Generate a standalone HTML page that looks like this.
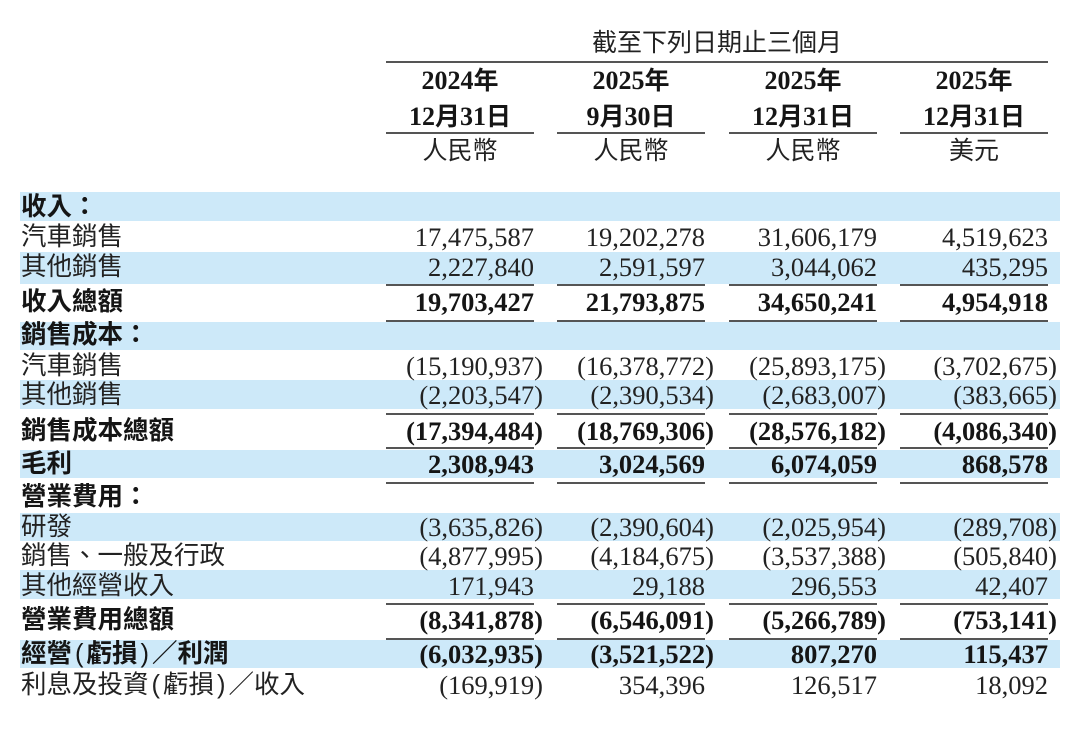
<!DOCTYPE html>
<html>
<head>
<meta charset="utf-8">
<style>
  html,body{margin:0;padding:0;}
  body{width:1080px;height:756px;position:relative;background:#fff;overflow:hidden;color:#1e1e1e;}
  .band{position:absolute;left:20px;width:1040px;background:#cde9f9;}
  .hl{position:absolute;height:2px;background:#555;}
  .cl{position:absolute;height:2px;width:148px;background:#555;}
  .lab{position:absolute;left:21px;font-family:"Liberation Sans","Noto Sans CJK TC",sans-serif;font-size:25.5px;line-height:32px;white-space:nowrap;color:#222;}
  .b{font-weight:bold;color:#151515;}
  .pr{font-family:"Liberation Sans",sans-serif;font-weight:normal;padding:0 3px;}
  .n{position:absolute;width:220px;text-align:right;font-family:"Liberation Serif",serif;font-size:26.5px;line-height:30px;white-space:nowrap;color:#222;}
  .nb{font-weight:bold;color:#151515;}
  .p{margin-right:-9px;}
  .h{position:absolute;width:200px;text-align:center;font-family:"Liberation Serif","Noto Sans CJK TC",serif;font-size:26px;line-height:32px;white-space:nowrap;font-weight:bold;color:#151515;}
  .h .c{font-family:"Noto Sans CJK TC",sans-serif;font-size:25px;}
  .hr{position:absolute;width:200px;text-align:center;font-family:"Liberation Sans","Noto Sans CJK TC",sans-serif;font-size:25px;line-height:32px;white-space:nowrap;color:#222;}
</style>
</head>
<body>
<!-- bands -->
<div class="band" style="top:192px;height:29px;"></div>
<div class="band" style="top:252px;height:32px;"></div>
<div class="band" style="top:322px;height:28px;"></div>
<div class="band" style="top:380px;height:29px;"></div>
<div class="band" style="top:450px;height:28px;"></div>
<div class="band" style="top:513px;height:28px;"></div>
<div class="band" style="top:570px;height:29px;"></div>
<div class="band" style="top:640px;height:28px;"></div>

<!-- header -->
<div class="hr" style="left:517px;top:27px;width:400px;">截至下列日期止三個月</div>
<div class="hl" style="left:386px;width:662px;top:61px;"></div>

<div class="h" style="left:360px;top:63px;">2024<span class="c">年</span></div>
<div class="h" style="left:531px;top:63px;">2025<span class="c">年</span></div>
<div class="h" style="left:703px;top:63px;">2025<span class="c">年</span></div>
<div class="h" style="left:874px;top:63px;">2025<span class="c">年</span></div>

<div class="h" style="left:360px;top:99px;">12<span class="c">月</span>31<span class="c">日</span></div>
<div class="h" style="left:531px;top:99px;">9<span class="c">月</span>30<span class="c">日</span></div>
<div class="h" style="left:703px;top:99px;">12<span class="c">月</span>31<span class="c">日</span></div>
<div class="h" style="left:874px;top:99px;">12<span class="c">月</span>31<span class="c">日</span></div>

<div class="cl" style="left:386px;top:132px;"></div>
<div class="cl" style="left:557px;top:132px;"></div>
<div class="cl" style="left:729px;top:132px;"></div>
<div class="cl" style="left:900px;top:132px;"></div>

<div class="hr" style="left:360px;top:135px;">人民幣</div>
<div class="hr" style="left:531px;top:135px;">人民幣</div>
<div class="hr" style="left:703px;top:135px;">人民幣</div>
<div class="hr" style="left:874px;top:135px;">美元</div>

<!-- total lines -->
<div class="cl" style="left:386px;top:284px;"></div><div class="cl" style="left:557px;top:284px;"></div><div class="cl" style="left:729px;top:284px;"></div><div class="cl" style="left:900px;top:284px;"></div>
<div class="cl" style="left:386px;top:320px;"></div><div class="cl" style="left:557px;top:320px;"></div><div class="cl" style="left:729px;top:320px;"></div><div class="cl" style="left:900px;top:320px;"></div>
<div class="cl" style="left:386px;top:413px;"></div><div class="cl" style="left:557px;top:413px;"></div><div class="cl" style="left:729px;top:413px;"></div><div class="cl" style="left:900px;top:413px;"></div>
<div class="cl" style="left:386px;top:447px;"></div><div class="cl" style="left:557px;top:447px;"></div><div class="cl" style="left:729px;top:447px;"></div><div class="cl" style="left:900px;top:447px;"></div>
<div class="cl" style="left:386px;top:482px;"></div><div class="cl" style="left:557px;top:482px;"></div><div class="cl" style="left:729px;top:482px;"></div><div class="cl" style="left:900px;top:482px;"></div>
<div class="cl" style="left:386px;top:603px;"></div><div class="cl" style="left:557px;top:603px;"></div><div class="cl" style="left:729px;top:603px;"></div><div class="cl" style="left:900px;top:603px;"></div>
<div class="cl" style="left:386px;top:638px;"></div><div class="cl" style="left:557px;top:638px;"></div><div class="cl" style="left:729px;top:638px;"></div><div class="cl" style="left:900px;top:638px;"></div>

<!-- labels -->
<div class="lab b" style="top:191px;">收入：</div>
<div class="lab" style="top:221px;">汽車銷售</div>
<div class="lab" style="top:251px;">其他銷售</div>
<div class="lab b" style="top:286px;">收入總額</div>
<div class="lab b" style="top:319px;">銷售成本：</div>
<div class="lab" style="top:350px;">汽車銷售</div>
<div class="lab" style="top:379px;">其他銷售</div>
<div class="lab b" style="top:415px;">銷售成本總額</div>
<div class="lab b" style="top:448px;">毛利</div>
<div class="lab b" style="top:481px;">營業費用：</div>
<div class="lab" style="top:511px;">研發</div>
<div class="lab" style="top:540px;">銷售、一般及行政</div>
<div class="lab" style="top:570px;">其他經營收入</div>
<div class="lab b" style="top:604px;">營業費用總額</div>
<div class="lab b" style="top:638px;">經營<span class="pr">(</span>虧損<span class="pr">)</span>／利潤</div>
<div class="lab" style="top:669px;">利息及投資<span class="pr">(</span>虧損<span class="pr">)</span>／收入</div>

<!-- numbers -->
<div class="n" style="left:314px;top:222px;">17,475,587</div>
<div class="n" style="left:485px;top:222px;">19,202,278</div>
<div class="n" style="left:657px;top:222px;">31,606,179</div>
<div class="n" style="left:828px;top:222px;">4,519,623</div>

<div class="n" style="left:314px;top:252px;">2,227,840</div>
<div class="n" style="left:485px;top:252px;">2,591,597</div>
<div class="n" style="left:657px;top:252px;">3,044,062</div>
<div class="n" style="left:828px;top:252px;">435,295</div>

<div class="n nb" style="left:314px;top:287px;">19,703,427</div>
<div class="n nb" style="left:485px;top:287px;">21,793,875</div>
<div class="n nb" style="left:657px;top:287px;">34,650,241</div>
<div class="n nb" style="left:828px;top:287px;">4,954,918</div>

<div class="n" style="left:314px;top:351px;">(15,190,937<span class="p">)</span></div>
<div class="n" style="left:485px;top:351px;">(16,378,772<span class="p">)</span></div>
<div class="n" style="left:657px;top:351px;">(25,893,175<span class="p">)</span></div>
<div class="n" style="left:828px;top:351px;">(3,702,675<span class="p">)</span></div>

<div class="n" style="left:314px;top:380px;">(2,203,547<span class="p">)</span></div>
<div class="n" style="left:485px;top:380px;">(2,390,534<span class="p">)</span></div>
<div class="n" style="left:657px;top:380px;">(2,683,007<span class="p">)</span></div>
<div class="n" style="left:828px;top:380px;">(383,665<span class="p">)</span></div>

<div class="n nb" style="left:314px;top:416px;">(17,394,484<span class="p">)</span></div>
<div class="n nb" style="left:485px;top:416px;">(18,769,306<span class="p">)</span></div>
<div class="n nb" style="left:657px;top:416px;">(28,576,182<span class="p">)</span></div>
<div class="n nb" style="left:828px;top:416px;">(4,086,340<span class="p">)</span></div>

<div class="n nb" style="left:314px;top:449px;">2,308,943</div>
<div class="n nb" style="left:485px;top:449px;">3,024,569</div>
<div class="n nb" style="left:657px;top:449px;">6,074,059</div>
<div class="n nb" style="left:828px;top:449px;">868,578</div>

<div class="n" style="left:314px;top:512px;">(3,635,826<span class="p">)</span></div>
<div class="n" style="left:485px;top:512px;">(2,390,604<span class="p">)</span></div>
<div class="n" style="left:657px;top:512px;">(2,025,954<span class="p">)</span></div>
<div class="n" style="left:828px;top:512px;">(289,708<span class="p">)</span></div>

<div class="n" style="left:314px;top:541px;">(4,877,995<span class="p">)</span></div>
<div class="n" style="left:485px;top:541px;">(4,184,675<span class="p">)</span></div>
<div class="n" style="left:657px;top:541px;">(3,537,388<span class="p">)</span></div>
<div class="n" style="left:828px;top:541px;">(505,840<span class="p">)</span></div>

<div class="n" style="left:314px;top:571px;">171,943</div>
<div class="n" style="left:485px;top:571px;">29,188</div>
<div class="n" style="left:657px;top:571px;">296,553</div>
<div class="n" style="left:828px;top:571px;">42,407</div>

<div class="n nb" style="left:314px;top:605px;">(8,341,878<span class="p">)</span></div>
<div class="n nb" style="left:485px;top:605px;">(6,546,091<span class="p">)</span></div>
<div class="n nb" style="left:657px;top:605px;">(5,266,789<span class="p">)</span></div>
<div class="n nb" style="left:828px;top:605px;">(753,141<span class="p">)</span></div>

<div class="n nb" style="left:314px;top:639px;">(6,032,935<span class="p">)</span></div>
<div class="n nb" style="left:485px;top:639px;">(3,521,522<span class="p">)</span></div>
<div class="n nb" style="left:657px;top:639px;">807,270</div>
<div class="n nb" style="left:828px;top:639px;">115,437</div>

<div class="n" style="left:314px;top:670px;">(169,919<span class="p">)</span></div>
<div class="n" style="left:485px;top:670px;">354,396</div>
<div class="n" style="left:657px;top:670px;">126,517</div>
<div class="n" style="left:828px;top:670px;">18,092</div>
</body>
</html>
